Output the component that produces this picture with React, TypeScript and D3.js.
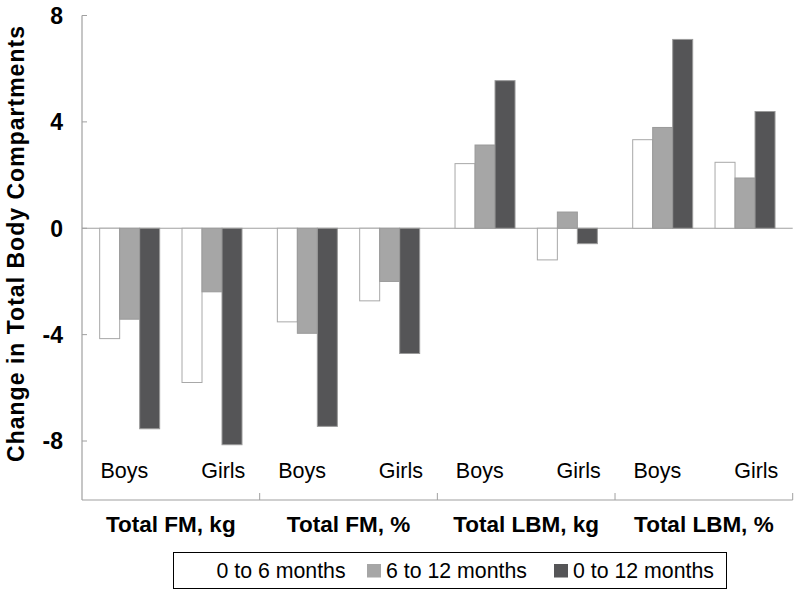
import React, { useEffect, useRef } from 'react';
import * as d3 from 'd3';

const groups = ['Total FM, kg', 'Total FM, %', 'Total LBM, kg', 'Total LBM, %'];
const sexes = ['Boys', 'Girls'];
const seriesNames = ['0 to 6 months', '6 to 12 months', '0 to 12 months'];
const seriesFills = ['#ffffff', '#a6a6a6', '#555557'];

// values in order: FM kg boys, girls, FM % boys, girls, LBM kg boys, girls, LBM % boys, girls
const months0to6 = [-4.15, -5.8, -3.52, -2.73, 2.43, -1.19, 3.33, 2.48];
const months6to12 = [-3.42, -2.39, -3.95, -2.0, 3.13, 0.61, 3.79, 1.89];
const months0to12 = [-7.54, -8.14, -7.45, -4.71, 5.55, -0.58, 7.1, 4.39];
const yTicks = [-8, -4, 0, 4, 8];

const App: React.FC = () => {
  const ref = useRef<SVGSVGElement | null>(null);

  useEffect(() => {
    const svg = d3.select(ref.current);
    svg.selectAll('*').remove();

    const left = 82;
    const right = 792.7;
    const axisBottom = 500;
    const axisColor = '#a0a0a0';
    const font = 'Liberation Sans, Arial, sans-serif';

    const x0 = d3.scaleBand<string>().domain(groups).range([left, right]).padding(0);
    const x1 = d3.scalePoint<string>().domain(sexes).range([0, x0.bandwidth()]).padding(0.579);
    const x2 = d3.scaleBand<string>().domain(seriesNames).range([-30, 30]).padding(0);
    const y = d3.scaleLinear().domain([-8, 8]).range([441, 15.5]);

    const allSeries = [months0to6, months6to12, months0to12];
    const bars: { g: string; s: string; k: number; v: number }[] = [];
    groups.forEach((g, gi) => {
      sexes.forEach((s, si) => {
        allSeries.forEach((vals, k) => {
          bars.push({ g, s, k, v: vals[gi * 2 + si] });
        });
      });
    });

    // zero line
    svg.append('line')
      .attr('x1', left).attr('x2', right)
      .attr('y1', y(0)).attr('y2', y(0))
      .attr('stroke', axisColor).attr('stroke-width', 1.2);

    svg.append('g').selectAll('rect')
      .data(bars)
      .enter()
      .append('rect')
      .attr('x', d => x0(d.g)! + x1(d.s)! + x2(seriesNames[d.k])!)
      .attr('width', x2.bandwidth())
      .attr('y', d => Math.min(y(d.v), y(0)))
      .attr('height', d => Math.abs(y(d.v) - y(0)))
      .attr('fill', d => seriesFills[d.k])
      .attr('stroke', d => (d.k === 0 ? '#a8a8a8' : '#9a9a9a'))
      .attr('stroke-width', 1);

    // y axis
    svg.append('line')
      .attr('x1', left).attr('x2', left)
      .attr('y1', y(8)).attr('y2', axisBottom)
      .attr('stroke', axisColor).attr('stroke-width', 1.2);

    svg.append('g').selectAll('line')
      .data(yTicks)
      .enter()
      .append('line')
      .attr('x1', left).attr('x2', left + 5)
      .attr('y1', d => y(d)).attr('y2', d => y(d))
      .attr('stroke', axisColor);

    svg.append('g').selectAll('text')
      .data(yTicks)
      .enter()
      .append('text')
      .attr('x', 63)
      .attr('y', d => y(d))
      .attr('dy', '0.36em')
      .attr('text-anchor', 'end')
      .attr('font-family', font)
      .attr('font-size', 23)
      .attr('font-weight', 'bold')
      .text(d => d);

    svg.append('text')
      .attr('transform', 'translate(24,244) rotate(-90)')
      .attr('text-anchor', 'middle')
      .attr('font-family', font)
      .attr('font-size', 23)
      .attr('font-weight', 'bold')
      .attr('textLength', 436)
      .text('Change in Total Body Compartments');

    // bottom category axis
    svg.append('line')
      .attr('x1', left).attr('x2', right)
      .attr('y1', axisBottom).attr('y2', axisBottom)
      .attr('stroke', axisColor).attr('stroke-width', 1.2);

    svg.append('g').selectAll('line')
      .data(groups.slice(1).map(g => x0(g)!).concat([right]))
      .enter()
      .append('line')
      .attr('x1', d => d).attr('x2', d => d)
      .attr('y1', axisBottom - 7).attr('y2', axisBottom)
      .attr('stroke', axisColor);

    const sexLabels: { g: string; s: string; si: number }[] = [];
    groups.forEach(g => sexes.forEach((s, si) => sexLabels.push({ g, s, si })));
    svg.append('g').selectAll('text')
      .data(sexLabels)
      .enter()
      .append('text')
      .attr('x', d => x0(d.g)! + x0.bandwidth() * (d.si === 0 ? 0.25 : 0.75) + (d.si === 0 ? -2 : 8))
      .attr('y', 478)
      .attr('text-anchor', 'middle')
      .attr('font-family', font)
      .attr('font-size', 21.5)
      .text(d => d.s);

    svg.append('g').selectAll('text')
      .data(groups)
      .enter()
      .append('text')
      .attr('x', d => x0(d)! + x0.bandwidth() / 2)
      .attr('y', 532)
      .attr('text-anchor', 'middle')
      .attr('font-family', font)
      .attr('font-size', 22.5)
      .attr('font-weight', 'bold')
      .text(d => d);

    // legend
    svg.append('rect')
      .attr('x', 173.5).attr('y', 552.5)
      .attr('width', 553).attr('height', 36)
      .attr('fill', '#fff')
      .attr('stroke', '#000')
      .attr('stroke-width', 1);

    const swatchX = [198, 367, 554];
    const textX = [216.5, 386, 573];
    const leg = svg.append('g').selectAll('g')
      .data(seriesNames)
      .enter()
      .append('g');
    leg.append('rect')
      .attr('x', (d, i) => swatchX[i])
      .attr('y', 564)
      .attr('width', 14)
      .attr('height', 13.5)
      .attr('fill', (d, i) => seriesFills[i]);
    leg.append('text')
      .attr('x', (d, i) => textX[i])
      .attr('y', 577.5)
      .attr('font-family', font)
      .attr('font-size', 21.3)
      .text(d => d);
  }, []);

  return (
    <svg
      ref={ref}
      width={800}
      height={596}
      style={{ position: 'absolute', left: 0, top: 0, background: '#fff' }}
    />
  );
};

export default App;
